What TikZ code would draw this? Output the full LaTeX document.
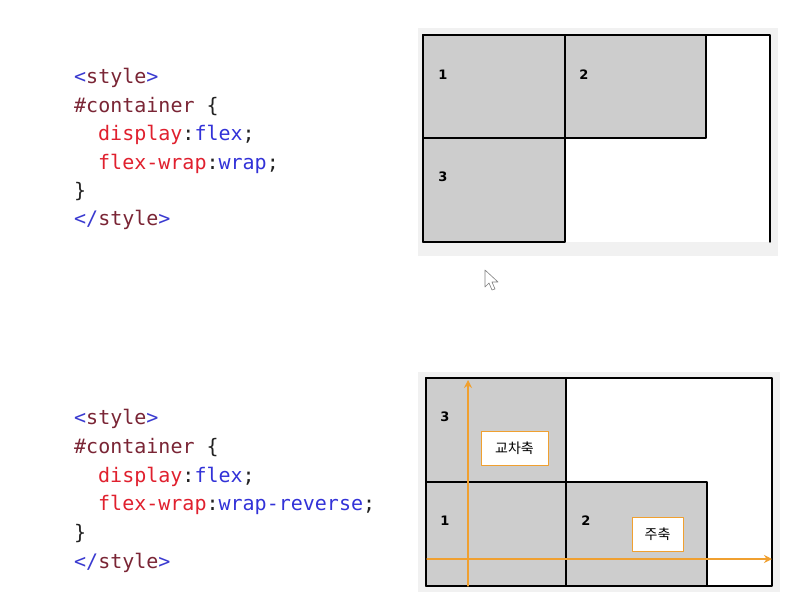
\documentclass[tikz,border=0pt]{standalone}
\usepackage{fontspec}
\usepackage{tikz}
\usetikzlibrary{arrows.meta}
\newfontfamily\codefont{DejaVu Sans Mono}
\newfontfamily\krfont{Noto Sans CJK KR}
\newfontfamily\numfont{DejaVu Sans}
\definecolor{tagblue}{HTML}{3A3AD0}
\definecolor{tagbrown}{HTML}{7A2535}
\definecolor{propred}{HTML}{E0202E}
\definecolor{valblue}{HTML}{3232D8}
\definecolor{punct}{HTML}{222222}
\definecolor{panelgray}{HTML}{F1F1F1}
\definecolor{boxgray}{HTML}{CDCDCD}
\definecolor{axisorange}{HTML}{F0A030}

\begin{document}
\begin{tikzpicture}[line cap=round,line join=round,>={Stealth[length=8pt,width=8pt]},x=1pt,y=-1pt,
    code/.style={anchor=base west,inner sep=0pt,text=punct,font=\codefont\fontsize{20}{20}\selectfont},
    item/.style={draw=black,line width=1.4pt,fill=boxgray,inner sep=0pt},
    num/.style={inner sep=0pt,font=\numfont\bfseries\fontsize{13}{13}\selectfont},
    axislabel/.style={draw=axisorange,line width=1pt,fill=white,inner sep=0pt,font=\krfont\fontsize{14}{14}\selectfont}]
        \useasboundingbox (0,0) rectangle (805,614);
        \fill[white] (0,0) rectangle (805,614);
        % code, flex-wrap: wrap
        \node[code] (topa) at (74,83) {\textcolor{tagblue}{<}\textcolor{tagbrown}{style}\textcolor{tagblue}{>}};
        \node[code] (topb) at (74,112) {\textcolor{tagbrown}{\#container} \{};
        \node[code] (topc) at (98,140) {\textcolor{propred}{display}:\textcolor{valblue}{flex};};
        \node[code] (topd) at (98,169) {\textcolor{propred}{flex-wrap}:\textcolor{valblue}{wrap};};
        \node[code] (tope) at (74,197) {\}};
        \node[code] (topf) at (74,225) {\textcolor{tagblue}{</}\textcolor{tagbrown}{style}\textcolor{tagblue}{>}};
        % code, flex-wrap: wrap-reverse
        \node[code] (bota) at (74,424) {\textcolor{tagblue}{<}\textcolor{tagbrown}{style}\textcolor{tagblue}{>}};
        \node[code] (botb) at (74,453) {\textcolor{tagbrown}{\#container} \{};
        \node[code] (botc) at (98,482) {\textcolor{propred}{display}:\textcolor{valblue}{flex};};
        \node[code] (botd) at (98,510) {\textcolor{propred}{flex-wrap}:\textcolor{valblue}{wrap-reverse};};
        \node[code] (bote) at (74,539) {\}};
        \node[code] (botf) at (74,568) {\textcolor{tagblue}{</}\textcolor{tagbrown}{style}\textcolor{tagblue}{>}};
        % top container
        \fill[panelgray] (418,28) rectangle (778,256);
        \fill[white] (423,35) rectangle (770,242);
        \draw[line width=1.4pt] (423,242) -- (423,35) -- (770,35) -- (770,242);
        \node[item,minimum width=142,minimum height=103] (wone) at (494,86.5) {};
        \node[item,minimum width=141,minimum height=103] (wtwo) at (635.5,86.5) {};
        \node[item,minimum width=142,minimum height=104] (wthree) at (494,190) {};
        \node[num] (wonenum) at (443,75) {1};
        \node[num] (wtwonum) at (584,75) {2};
        \node[num] (wthreenum) at (443,177) {3};
        % mouse pointer
        \draw[gray,line width=0.6pt,fill=white] (485,270) -- (485,287) -- (489,283) -- (492,290) -- (495,289) -- (492,282) -- (498,282) -- cycle;
        % bottom container
        \fill[panelgray] (418,372) rectangle (780,592);
        \draw[line width=1.4pt,fill=white] (426,378) rectangle (772,586);
        \node[item,minimum width=140,minimum height=104] (rthree) at (496,430) {};
        \node[item,minimum width=140,minimum height=104] (rone) at (496,534) {};
        \node[item,minimum width=141,minimum height=104] (rtwo) at (636.5,534) {};
        \node[num] (rthreenum) at (445,417) {3};
        \node[num] (ronenum) at (445,521) {1};
        \node[num] (rtwonum) at (586,521) {2};
        \coordinate (crossstart) at (468,586);
        \coordinate (crossend) at (468,380);
        \coordinate (mainstart) at (427,559);
        \coordinate (mainend) at (772,559);
        \draw[->,axisorange,line width=1.1pt] (crossstart) -- (crossend);
        \draw[->,axisorange,line width=1.1pt] (mainstart) -- (mainend);
        \node[axislabel,minimum width=67,minimum height=34] (crosslabel) at (514.5,448) {교차축};
        \node[axislabel,minimum width=51,minimum height=34] (mainlabel) at (657.5,534) {주축};
    \end{tikzpicture}
\end{document}
